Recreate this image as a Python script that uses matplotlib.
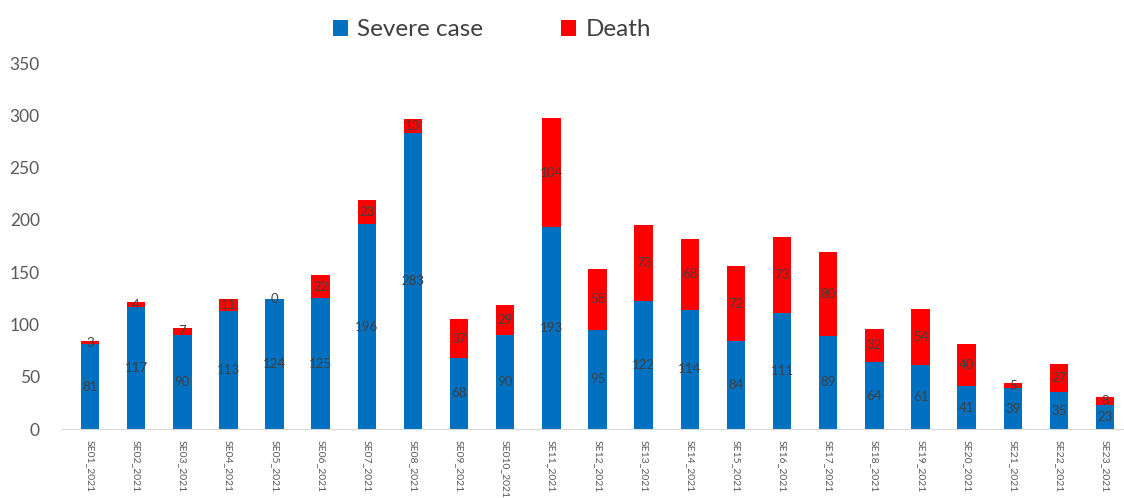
import matplotlib.pyplot as plt
import numpy as np

plt.rcParams["font.family"] = ["Lato", "DejaVu Sans"]

weeks = ["SE01_2021", "SE02_2021", "SE03_2021", "SE04_2021", "SE05_2021",
         "SE06_2021", "SE07_2021", "SE08_2021", "SE09_2021", "SE010_2021",
         "SE11_2021", "SE12_2021", "SE13_2021", "SE14_2021", "SE15_2021",
         "SE16_2021", "SE17_2021", "SE18_2021", "SE19_2021", "SE20_2021",
         "SE21_2021", "SE22_2021", "SE23_2021"]
severe = [81, 117, 90, 113, 124, 125, 196, 283, 68, 90, 193, 95,
          122, 114, 84, 111, 89, 64, 61, 41, 39, 35, 23]
death = [3, 4, 7, 11, 0, 22, 23, 13, 37, 29, 104, 58,
         73, 68, 72, 73, 80, 32, 54, 40, 5, 27, 8]

BLUE = "#0070C0"
RED = "#FF0000"

fig = plt.figure(figsize=(11.24, 4.98), dpi=100)
ax = fig.add_axes([62 / 1124, 69 / 498, 1 - 62 / 1124, (429 - 63) / 498])

x = np.arange(len(weeks))
w = 0.4
ax.bar(x, severe, w, color=BLUE, label="Severe case")
ax.bar(x, death, w, bottom=severe, color=RED, label="Death")

# value labels in the middle of each segment
for i in range(len(weeks)):
    ax.text(x[i], severe[i] / 2, str(severe[i]), ha="center", va="center",
            fontsize=9.5, color="#404040")
    ax.text(x[i], severe[i] + death[i] / 2, str(death[i]), ha="center",
            va="center", fontsize=9.5, color="#404040")

ax.set_xlim(-0.607, 22.41)
ax.set_ylim(0, 350)
ax.set_yticks(range(0, 351, 50))
ax.set_xticks(x)
ax.set_xticklabels(weeks, rotation=270, fontsize=7.5, color="#595959")
ax.tick_params(axis="y", labelsize=12.5, colors="#595959", length=0, pad=16)
ax.tick_params(axis="x", length=0, pad=8)

for side in ["top", "right", "left"]:
    ax.spines[side].set_visible(False)
ax.spines["bottom"].set_color("#D9D9D9")

fig.legend(loc="center", bbox_to_anchor=(492 / 1124, 1 - 30 / 498), ncol=2,
           frameon=False, fontsize=17.5, handlelength=0.6, handleheight=0.6,
           columnspacing=3.2, handletextpad=0.4, labelcolor="#404040")

fig.savefig("out.png", dpi=100)
